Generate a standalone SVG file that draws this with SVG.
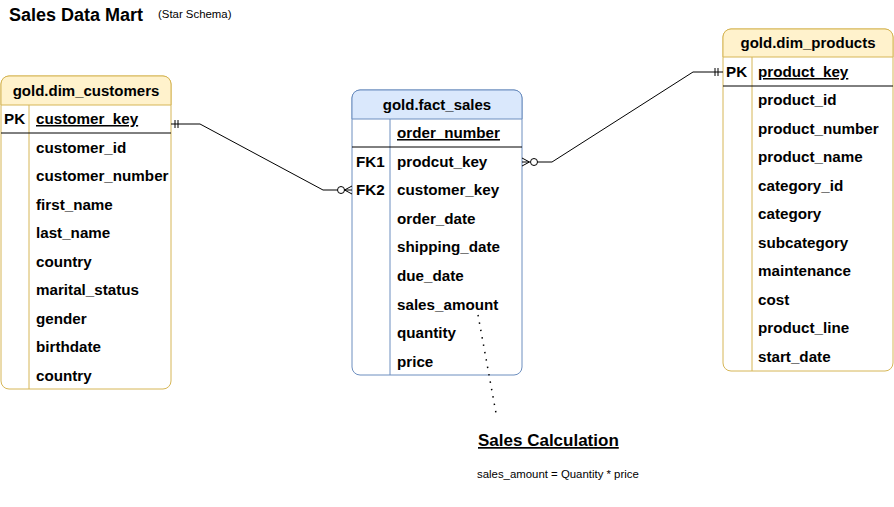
<svg xmlns="http://www.w3.org/2000/svg" width="894" height="507" viewBox="0 0 894 507">
<style>
text{font-family:"Liberation Sans",Arial,sans-serif;fill:#000}
.t{font-size:15.2px;font-weight:bold}
.h{font-size:15px;font-weight:bold;text-anchor:middle}
.k{text-decoration:underline}
.y .box{fill:#ffffff;stroke:#d6b656;stroke-width:1}
.y .hd{fill:#fff2cc;stroke:#d6b656}
.y .ln{stroke:#d6b656;stroke-width:1}
.b .box{fill:#ffffff;stroke:#6c8ebf;stroke-width:1}
.b .hd{fill:#dae8fc;stroke:#6c8ebf}
.b .ln{stroke:#6c8ebf;stroke-width:1}
.sep{stroke:#000;stroke-width:1}
.c{fill:none;stroke:#000;stroke-width:1}
</style>
<rect width="894" height="507" fill="#ffffff"/>
<text x="9" y="21" style="font-size:18px;font-weight:bold">Sales Data Mart</text>
<text x="158" y="18" style="font-size:11.4px">(Star Schema)</text>

<g id="dim_customers" class="y">
<rect class="box" x="1" y="76" width="170" height="313" rx="8"/>
<path class="hd" d="M1,105 V84 A8,8 0 0 1 9,76 H163 A8,8 0 0 1 171,84 V105 Z"/>
<line class="ln" x1="29" y1="105" x2="29" y2="389"/>
<line class="sep" x1="1" y1="133" x2="171" y2="133"/>
<text class="h" x="86" y="96">gold.dim_customers</text>
<text class="t" x="4" y="124">PK</text>
<text class="t k" x="36" y="124">customer_key</text>
<text class="t" x="36" y="153">customer_id</text>
<text class="t" x="36" y="181">customer_number</text>
<text class="t" x="36" y="210">first_name</text>
<text class="t" x="36" y="238">last_name</text>
<text class="t" x="36" y="267">country</text>
<text class="t" x="36" y="295">marital_status</text>
<text class="t" x="36" y="324">gender</text>
<text class="t" x="36" y="352">birthdate</text>
<text class="t" x="36" y="381">country</text>
</g>

<g id="fact_sales" class="b">
<rect class="box" x="352" y="90" width="170" height="285" rx="8"/>
<path class="hd" d="M352,119 V98 A8,8 0 0 1 360,90 H514 A8,8 0 0 1 522,98 V119 Z"/>
<line class="ln" x1="390" y1="119" x2="390" y2="375"/>
<line class="sep" x1="352" y1="147" x2="522" y2="147"/>
<text class="h" x="437" y="110">gold.fact_sales</text>
<text class="t k" x="397" y="138">order_number</text>
<text class="t" x="356" y="167">FK1</text>
<text class="t" x="397" y="167">prodcut_key</text>
<text class="t" x="356" y="195">FK2</text>
<text class="t" x="397" y="195">customer_key</text>
<text class="t" x="397" y="224">order_date</text>
<text class="t" x="397" y="252">shipping_date</text>
<text class="t" x="397" y="281">due_date</text>
<text class="t" x="397" y="310">sales_amount</text>
<text class="t" x="397" y="338">quantity</text>
<text class="t" x="397" y="367">price</text>
</g>

<g id="dim_products" class="y">
<rect class="box" x="723" y="29" width="170" height="342" rx="8"/>
<path class="hd" d="M723,57 V37 A8,8 0 0 1 731,29 H885 A8,8 0 0 1 893,37 V57 Z"/>
<line class="ln" x1="752" y1="57" x2="752" y2="371"/>
<line class="sep" x1="723" y1="86" x2="893" y2="86"/>
<text class="h" x="808" y="48">gold.dim_products</text>
<text class="t" x="726" y="77">PK</text>
<text class="t k" x="758" y="77">product_key</text>
<text class="t" x="758" y="105">product_id</text>
<text class="t" x="758" y="134">product_number</text>
<text class="t" x="758" y="162">product_name</text>
<text class="t" x="758" y="191">category_id</text>
<text class="t" x="758" y="219">category</text>
<text class="t" x="758" y="248">subcategory</text>
<text class="t" x="758" y="276">maintenance</text>
<text class="t" x="758" y="305">cost</text>
<text class="t" x="758" y="333">product_line</text>
<text class="t" x="758" y="362">start_date</text>
</g>

<g id="connectors">
<polyline class="c" points="171,124 200,124 323,190 337.5,190"/>
<line class="c" x1="175" y1="120" x2="175" y2="128"/>
<line class="c" x1="178" y1="120" x2="178" y2="128"/>
<circle class="c" cx="341" cy="190" r="3.5"/>
<polyline class="c" points="352,186 344.5,190 352,194"/>
<line class="c" x1="344.5" y1="190" x2="352" y2="190"/>

<polyline class="c" points="723,72 693,72 552,162 537.5,162"/>
<line class="c" x1="715" y1="68" x2="715" y2="76"/>
<line class="c" x1="718" y1="68" x2="718" y2="76"/>
<circle class="c" cx="534" cy="162" r="3.5"/>
<polyline class="c" points="522,158 529.5,162 522,166"/>
<line class="c" x1="522" y1="162" x2="529.5" y2="162"/>

<line x1="478" y1="315" x2="496" y2="413" stroke="#000" stroke-width="1.5" stroke-dasharray="1.5 6"/>
</g>

<text x="478" y="446" style="font-size:17px;font-weight:bold;text-decoration:underline">Sales Calculation</text>
<text x="477" y="478" style="font-size:11.4px">sales_amount = Quantity * price</text>
</svg>
